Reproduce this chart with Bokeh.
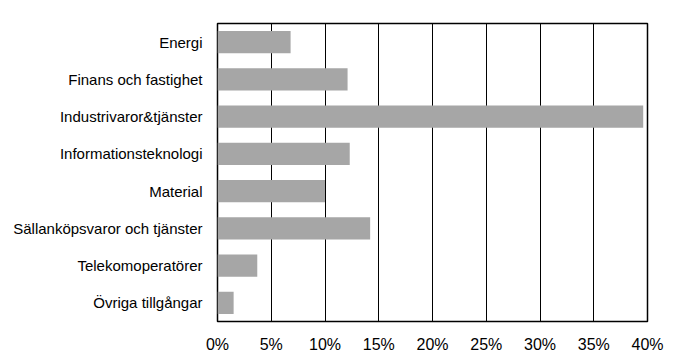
from bokeh.plotting import figure
from bokeh.models import Range1d, FixedTicker, PrintfTickFormatter
from bokeh.embed import file_html
from bokeh.resources import INLINE

categories = ["Energi", "Finans och fastighet", "Industrivaror&tjänster",
              "Informationsteknologi", "Material", "Sällanköpsvaror och tjänster",
              "Telekomoperatörer", "Övriga tillgångar"]
values = [6.8, 12.1, 39.6, 12.3, 10.0, 14.2, 3.7, 1.5]
tick_values = [0, 5, 10, 15, 20, 25, 30, 35, 40]

p = figure(width=680, height=355, y_range=list(reversed(categories)),
           x_range=Range1d(0, 40), output_backend="svg", toolbar_location=None,
           min_border_left=217, min_border_right=33, min_border_top=23, min_border_bottom=31)

p.hbar(y=categories, right=values, height=0.6, left=0, color="#a6a6a6", line_color=None)

p.outline_line_color = "black"
p.outline_line_width = 1.5
p.ygrid.grid_line_color = None
p.xgrid.grid_line_color = "black"
p.xgrid.grid_line_width = 1
p.xgrid.ticker = FixedTicker(ticks=tick_values)

p.xaxis.ticker = FixedTicker(ticks=tick_values)
p.xaxis.formatter = PrintfTickFormatter(format="%d%%")
for ax in (p.xaxis, p.yaxis):
    ax.axis_line_color = None
    ax.major_tick_line_color = None
    ax.minor_tick_line_color = None
    ax.major_label_text_font = "Liberation Sans"
    ax.major_label_text_color = "black"
p.xaxis.major_label_text_font_size = "16px"
p.xaxis.major_label_standoff = 8
p.yaxis.major_label_text_font_size = "15px"
p.yaxis.major_label_standoff = 9

open("out.html", "w").write(file_html(p, INLINE))
